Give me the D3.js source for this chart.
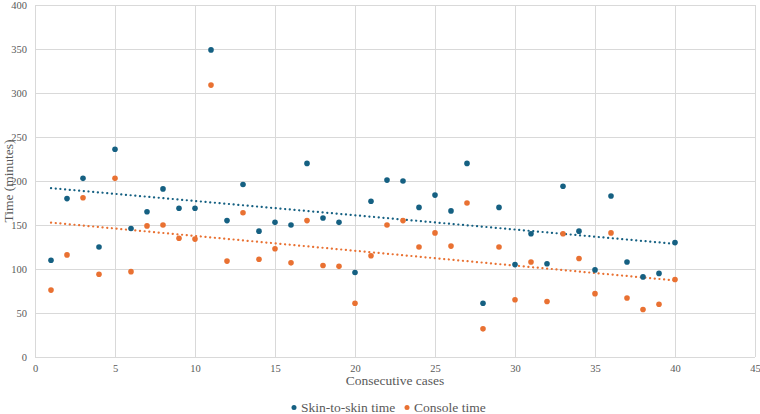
<!DOCTYPE html>
<html>
<head>
<meta charset="utf-8">
<script src="https://cdn.jsdelivr.net/npm/d3@7"></script>
<style>
  body { margin: 0; background: #fff; }
</style>
</head>
<body>
<svg id="svg" width="760" height="414"></svg>
<script>
// consecutive case numbers
let cases = d3.range(1, 41);

// skin-to-skin time (minutes)
let skinTime = [110, 180, 203, 125, 236, 146, 165, 191, 169, 169,
  349, 155, 196, 143, 153, 150, 220, 158, 153, 96,
  177, 201, 200, 170, 184, 166, 220, 61, 170, 105,
  140, 106, 194, 143, 99, 183, 108, 91, 95, 130];

// console time (minutes)
let consoleTime = [76, 116, 181, 94, 203, 97, 149, 150, 135, 134,
  309, 109, 164, 111, 123, 107, 155, 104, 103, 61,
  115, 150, 155, 125, 141, 126, 175, 32, 125, 65,
  108, 63, 140, 112, 72, 141, 67, 54, 60, 88];

let xTicks = [0, 5, 10, 15, 20, 25, 30, 35, 40, 45];
let yTicks = [0, 50, 100, 150, 200, 250, 300, 350, 400];

let series = [
  { name: "Skin-to-skin time", values: skinTime, color: "#156082" },
  { name: "Console time", values: consoleTime, color: "#E97132" }
];

let serif = "'Liberation Serif'";
let margin = { top: 5, right: 5, bottom: 57, left: 35 };
let width = 760, height = 414;

let x = d3.scaleLinear().domain([0, 45]).range([margin.left, width - margin.right]);
let y = d3.scaleLinear().domain([0, 400]).range([height - margin.bottom, margin.top]);

let svg = d3.select("#svg");

// gridlines
svg.append("g").selectAll("line").data(yTicks).enter().append("line")
  .attr("x1", x(0)).attr("x2", x(45))
  .attr("y1", d => y(d)).attr("y2", d => y(d))
  .attr("stroke", "#d9d9d9").attr("stroke-width", 1).attr("shape-rendering", "crispEdges");
svg.append("g").selectAll("line").data(xTicks).enter().append("line")
  .attr("x1", d => x(d)).attr("x2", d => x(d))
  .attr("y1", y(0)).attr("y2", y(400))
  .attr("stroke", "#d9d9d9").attr("stroke-width", 1).attr("shape-rendering", "crispEdges");

// axes (labels only)
let xAxis = svg.append("g")
  .attr("transform", "translate(0," + (y(0) + 4) + ")")
  .call(d3.axisBottom(x).tickValues(xTicks).tickSize(0).tickPadding(4));
let yAxis = svg.append("g")
  .attr("transform", "translate(" + (x(0) - 8) + ",0)")
  .call(d3.axisLeft(y).tickValues(yTicks).tickSize(0).tickPadding(0));
[xAxis, yAxis].forEach(function(a) {
  a.select(".domain").remove();
  a.selectAll("text").attr("fill", "#595959").attr("font-size", 10.5)
    .style("font-family", serif);
});

// axis titles
svg.append("text")
  .attr("x", (x(0) + x(45)) / 2).attr("y", 385)
  .attr("text-anchor", "middle").attr("font-size", 13.5).attr("fill", "#595959")
  .style("font-family", serif)
  .text("Consecutive cases");
svg.append("text")
  .attr("transform", "translate(13," + ((y(0) + y(400)) / 2) + ") rotate(-90)")
  .attr("text-anchor", "middle").attr("font-size", 13.5).attr("fill", "#595959")
  .style("font-family", serif)
  .text("Time (minutes)");

// linear trend lines (least squares on the data above)
function fit(vals) {
  let mx = d3.mean(cases), my = d3.mean(vals);
  let sxy = 0, sxx = 0;
  for (let i = 0; i < cases.length; ++i) {
    sxy += (cases[i] - mx) * (vals[i] - my);
    sxx += (cases[i] - mx) * (cases[i] - mx);
  }
  let b = sxy / sxx;
  return { a: my - b * mx, b: b };
}

series.forEach(function(s) {
  let f = fit(s.values);
  svg.append("line")
    .attr("x1", x(1)).attr("y1", y(f.a + f.b * 1))
    .attr("x2", x(40)).attr("y2", y(f.a + f.b * 40))
    .attr("stroke", s.color).attr("stroke-width", 2.2)
    .attr("stroke-linecap", "round").attr("stroke-dasharray", "0.1 4.6");
});

// points
series.forEach(function(s) {
  svg.append("g").selectAll("circle").data(s.values).enter().append("circle")
    .attr("cx", (d, i) => x(cases[i]))
    .attr("cy", d => y(d))
    .attr("r", 2.8)
    .attr("fill", s.color);
});

// legend
let legend = svg.append("g").attr("transform", "translate(0,408)");
let lx = [294, 407];
series.forEach(function(s, i) {
  legend.append("circle").attr("cx", lx[i]).attr("cy", -0.5).attr("r", 2.5).attr("fill", s.color);
  legend.append("text").attr("x", lx[i] + 7).attr("y", 4)
    .attr("font-size", 13.5).attr("fill", "#595959")
    .style("font-family", serif).text(s.name);
});
</script>
</body>
</html>
